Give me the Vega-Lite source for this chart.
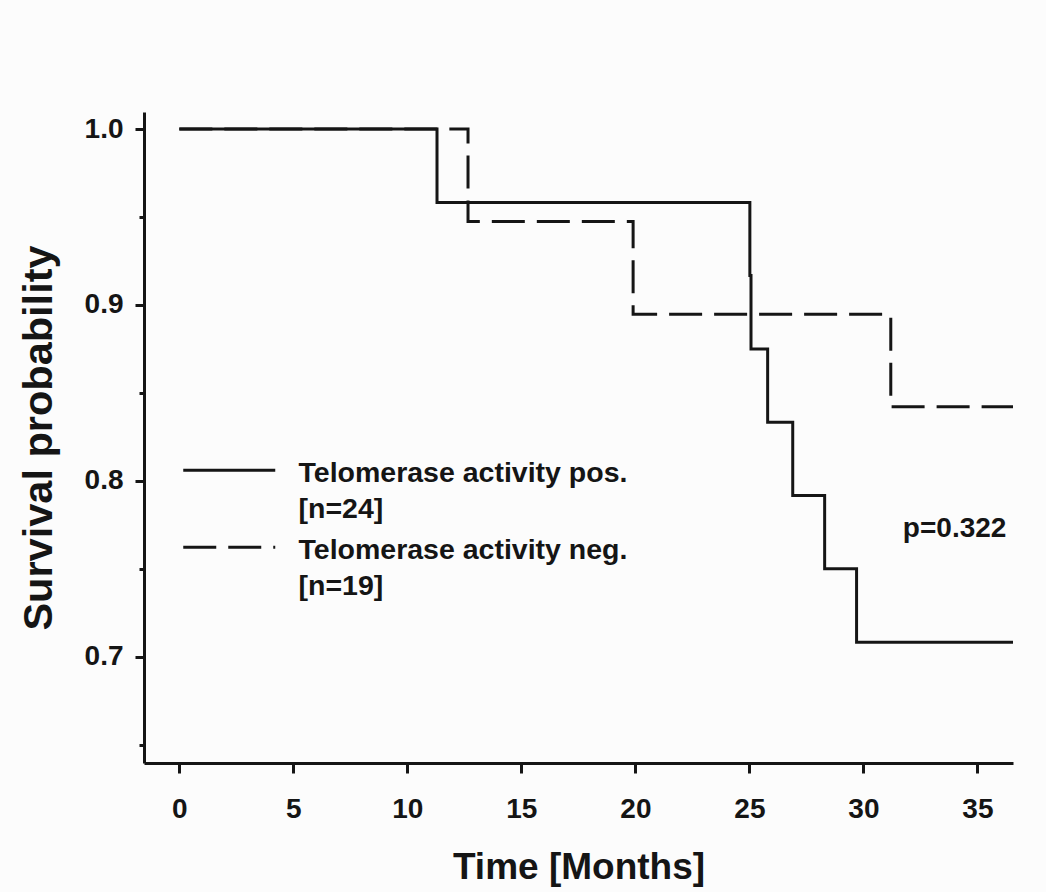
{
  "$schema": "https://vega.github.io/schema/vega-lite/v6.json",
  "width": 869,
  "height": 651,
  "autosize": "none",
  "padding": {"left": 144, "top": 112, "right": 33, "bottom": 129},
  "background": "#fcfcfc",
  "config": {
    "view": {"stroke": null},
    "font": "Liberation Sans",
    "axis": {
      "domainColor": "#151515",
      "domainWidth": 3,
      "tickColor": "#151515",
      "tickWidth": 3,
      "grid": false,
      "labelFont": "Liberation Sans",
      "labelFontWeight": "bold",
      "labelFontSize": 28,
      "labelColor": "#151515",
      "titleFont": "Liberation Sans",
      "titleFontWeight": "bold",
      "titleColor": "#151515"
    }
  },
  "data": {
    "values": [
      {"group": "pos", "time": 0, "survival": 1.0},
      {"group": "pos", "time": 11.3, "survival": 0.9583},
      {"group": "pos", "time": 25.02, "survival": 0.9167},
      {"group": "pos", "time": 25.07, "survival": 0.875},
      {"group": "pos", "time": 25.8, "survival": 0.8333},
      {"group": "pos", "time": 26.9, "survival": 0.7917},
      {"group": "pos", "time": 28.3, "survival": 0.75},
      {"group": "pos", "time": 29.7, "survival": 0.7083},
      {"group": "pos", "time": 36.56, "survival": 0.7083},
      {"group": "neg", "time": 0, "survival": 1.0},
      {"group": "neg", "time": 12.66, "survival": 0.9474},
      {"group": "neg", "time": 19.9, "survival": 0.8947},
      {"group": "neg", "time": 31.2, "survival": 0.8421},
      {"group": "neg", "time": 36.56, "survival": 0.8421}
    ]
  },
  "layer": [
    {
      "mark": {"type": "line", "interpolate": "step-after", "strokeWidth": 3, "color": "#151515", "strokeCap": "butt", "strokeJoin": "miter"},
      "encoding": {
        "x": {
          "field": "time", "type": "quantitative",
          "scale": {"domain": [-1.55, 36.56], "nice": false, "zero": false},
          "axis": {"values": [0, 5, 10, 15, 20, 25, 30, 35], "title": "Time [Months]", "titleFontSize": 37, "titlePadding": 26, "tickSize": 10, "labelPadding": 22, "labelFlush": false, "labelOverlap": false}
        },
        "y": {
          "field": "survival", "type": "quantitative",
          "scale": {"domain": [0.6396, 1.0097], "nice": false, "zero": false},
          "axis": {"values": [0.7, 0.8, 0.9, 1.0], "format": ".1f", "title": "Survival probability", "titleFontSize": 41.5, "titlePadding": 24, "tickSize": 9, "labelPadding": 12, "labelFlush": false, "labelOverlap": false}
        },
        "strokeDash": {
          "field": "group", "type": "nominal",
          "scale": {"domain": ["pos", "neg"], "range": [[1, 0], [33, 12]]},
          "legend": {
            "orient": "none", "legendX": 71, "legendY": 344, "title": null, "padding": 0,
            "symbolType": "M-4,0H4", "symbolSize": 529, "symbolStrokeWidth": 3, "symbolStrokeColor": "#151515", "symbolFillColor": "transparent", "symbolOffset": 0,
            "labelFont": "Liberation Sans", "labelFontWeight": "bold", "labelFontSize": 28.5, "labelColor": "#151515",
            "labelLimit": 0, "labelOffset": 55, "rowPadding": 9, "labelBaseline": "middle",
            "labelExpr": "datum.value == 'pos' ? ['Telomerase activity pos.', '[n=24]'] : ['Telomerase activity neg.', '[n=19]']",
            "encode": {
              "labels": {"update": {"dy": {"value": 3}, "lineHeight": {"value": 36}}},
              "symbols": {"update": {"strokeDash": {"signal": "datum.value == 'neg' ? [34, 11, 34, 300] : [1, 0]"}}}
            }
          }
        }
      }
    },
    {
      "data": {"values": [{"label": "p=0.322", "t": 34.0, "s": 0.768}]},
      "mark": {"type": "text", "font": "Liberation Sans", "fontWeight": "bold", "fontSize": 28, "color": "#151515", "align": "center", "baseline": "alphabetic"},
      "encoding": {
        "x": {"field": "t", "type": "quantitative"},
        "y": {
          "field": "s", "type": "quantitative",
          "axis": {"orient": "left", "values": [0.65, 0.75, 0.85, 0.95], "labels": false, "domain": false, "title": null, "tickSize": 5}
        },
        "text": {"field": "label"}
      }
    }
  ],
  "resolve": {"axis": {"y": "independent"}}
}
